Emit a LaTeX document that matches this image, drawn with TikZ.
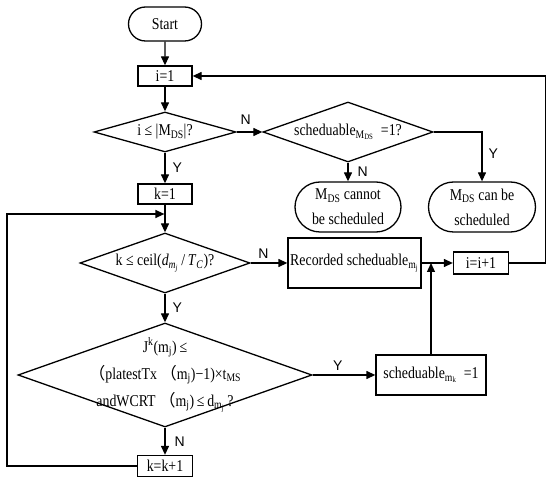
\documentclass[tikz,border=0pt]{standalone}
\usepackage{fontspec}
\setmainfont{Liberation Serif}[FakeStretch=0.84]
\newfontfamily\labfont{Liberation Sans}
\newfontfamily\cjk{Noto Sans CJK SC}
\usetikzlibrary{arrows.meta,shapes.geometric,shapes.misc}
\newcommand{\sbs}[1]{\textsubscript{#1}}
\tikzset{
  base/.style={draw,line width=1.3pt,font=\fontsize{16.5pt}{25pt}\selectfont,inner sep=0pt,align=center},
  term/.style={base,rounded rectangle},
  proc/.style={base,rectangle,minimum width=54pt,minimum height=20pt},
  dec/.style={base,diamond,aspect=2.83},
  arr/.style={-{Triangle[length=9pt,width=8pt]},line width=1.3pt},
  lab/.style={font=\labfont\fontsize{14pt}{16pt}\selectfont,inner sep=1pt}
}
\begin{document}
\begin{tikzpicture}[x=1pt,y=-1pt]
\useasboundingbox (0,0) rectangle (550,481);
\node[term,minimum width=73pt,minimum height=34pt] (start) at (165,24) {Start};
\node[proc] (i1) at (165,76) {i=1};
\node[dec,aspect=3.55,minimum width=142pt,minimum height=40pt,inner sep=-6pt] (d1) at (165,132) {i ≤ |M\sbs{DS}|?};
\node[dec,minimum width=170pt,minimum height=60pt] (d2) at (348,132) {scheduable\sbs{M\sbs{DS}}\ \ =1?};
\node[term,minimum width=106pt,minimum height=50pt] (cannot) at (348,207) {M\sbs{DS} cannot\\be scheduled};
\node[term,minimum width=107pt,minimum height=50pt] (can) at (482,207) {M\sbs{DS} can be\\scheduled};
\node[proc] (k1) at (165,194) {k=1};
\coordinate (back) at (165,214);
\node[dec,minimum width=170pt,minimum height=60pt] (d3) at (165,263) {k ≤ ceil(\textit{d}\sbs{\textit{m}\sbs{\textit{j}}}\,/\,\textit{T}\sbs{\textit{C}})?};
\node[proc,minimum width=133pt,minimum height=50pt] (rec) at (354.5,263) {Recorded scheduable\sbs{m\sbs{j}}};
\node[proc,minimum width=55pt,minimum height=22pt] (inc) at (481,263) {i=i+1};
\node[dec,minimum width=294pt,minimum height=104pt,inner sep=-20pt,font=\fontsize{16.5pt}{27pt}\selectfont] (d4) at (165,375)
  {J\textsuperscript{k}(m\sbs{j})\,≤\\{\cjk （}platestTx {\cjk （}m\sbs{j})−1)×t\sbs{MS}\\andWCRT {\cjk （}m\sbs{j})\,≤\,d\sbs{m\sbs{j}}\,?};
\node[proc,minimum width=110pt,minimum height=40pt] (sch) at (431,375) {scheduable\sbs{m\sbs{k}}\ \ =1};
\node[proc,minimum width=55pt,minimum height=21pt] (kinc) at (165,466) {k=k+1};

\draw[arr] (start) -- (i1);
\draw[arr] (i1) -- (d1);
\draw[arr] (d1) -- node[lab,above=6pt,pos=0.35] {N} (d2);
\draw[arr] (d2) -- node[lab,right=8pt,midway] {N} (cannot);
\draw[arr] (d2.east) -| node[lab,right=5pt,pos=0.72] {Y} (can);
\draw[arr] (d1) -- node[lab,right=6pt,midway] {Y} (k1);
\draw[arr] (k1) -- (d3);
\draw[arr] (d3) -- node[lab,above=3pt,pos=0.35] {N} (rec);
\draw[arr] (rec) -- (inc);
\draw[arr] (inc.east) -- ++(36,0) |- (i1);
\draw[arr] (d3) -- node[lab,right=6pt,midway] {Y} (d4);
\draw[arr] (d4) -- node[lab,above=3pt,pos=0.4] {Y} (sch);
\draw[arr] (sch) -- (sch |- rec.east);
\draw[arr] (d4) -- node[lab,right=8pt,midway] {N} (kinc);
\draw[arr,shorten >=0.6pt] (kinc.west) -| (7,214) -- (back);
\end{tikzpicture}
\end{document}
